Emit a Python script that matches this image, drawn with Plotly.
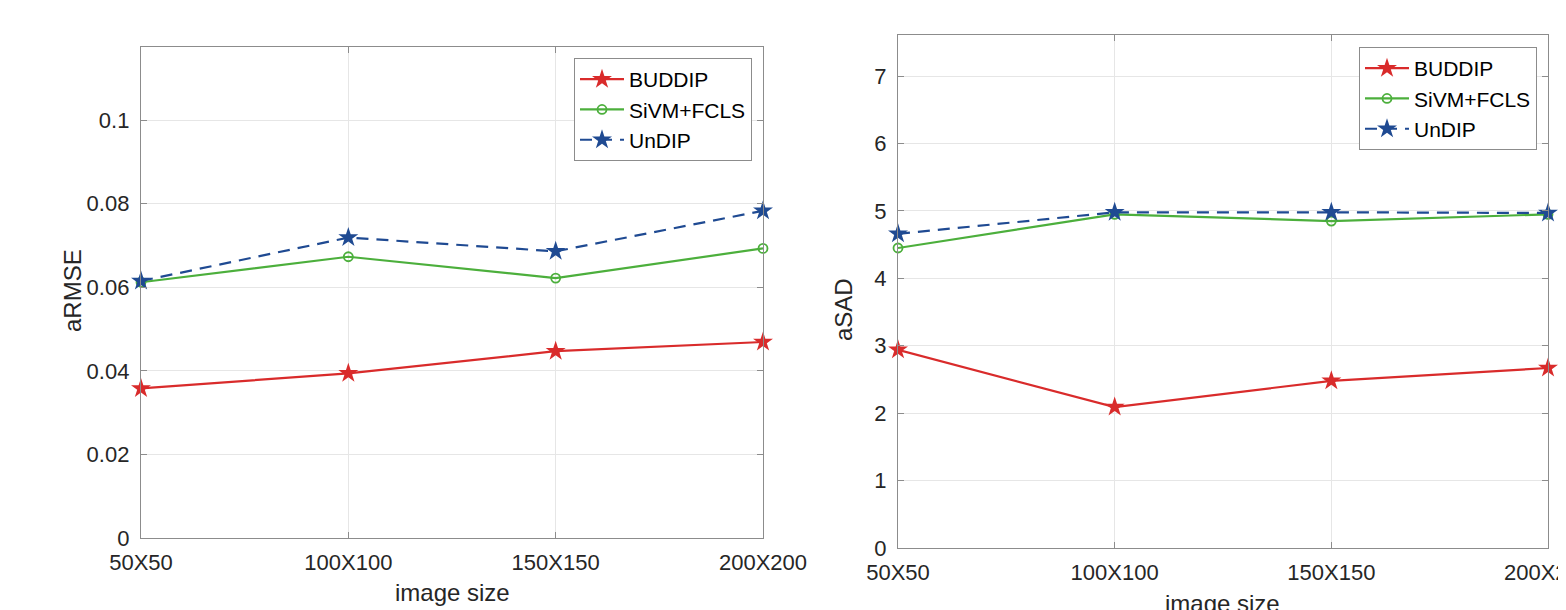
import plotly.graph_objects as go

# ---- data ----
sizes = ["50X50", "100X100", "150X150", "200X200"]
armse_buddip = [0.0358, 0.0394, 0.0447, 0.0469]
armse_sivm = [0.0612, 0.0673, 0.0622, 0.0693]
armse_undip = [0.0615, 0.0719, 0.0686, 0.0783]
asad_buddip = [2.94, 2.09, 2.48, 2.67]
asad_sivm = [4.45, 4.95, 4.85, 4.95]
asad_undip = [4.66, 4.98, 4.98, 4.97]
armse_ticks = [0, 0.02, 0.04, 0.06, 0.08, 0.1]
armse_ticktext = ["0", "0.02", "0.04", "0.06", "0.08", "0.1"]
asad_ticks = [0, 1, 2, 3, 4, 5, 6, 7]
series_names = ["BUDDIP", "SiVM+FCLS", "UnDIP"]

OFF = 8  # page body margin
W, H = 1566 - OFF, 610 - OFF
RED = "#d92b2b"
GREEN = "#4caf3c"
BLUE = "#1f4a92"
FONT = "Liberation Sans, Arial, Helvetica, sans-serif"
TXT = "#262626"
AXC = "#8c8c8c"
GRID = "#e6e6e6"

fig = go.Figure()


def add_series(xa, ya, vals, legend):
    b, s, u = vals
    fig.add_trace(go.Scatter(
        x=sizes, y=b, name=series_names[0], xaxis=xa, yaxis=ya, legend=legend,
        mode="lines+markers", cliponaxis=False,
        line=dict(color=RED, width=2.2),
        marker=dict(symbol="star", size=15, color=RED, line=dict(width=0))))
    fig.add_trace(go.Scatter(
        x=sizes, y=s, name=series_names[1], xaxis=xa, yaxis=ya, legend=legend,
        mode="lines+markers", cliponaxis=False,
        line=dict(color=GREEN, width=2.2),
        marker=dict(symbol="circle-open", size=9, color=GREEN, line=dict(width=1.8, color=GREEN))))
    fig.add_trace(go.Scatter(
        x=sizes, y=u, name=series_names[2], xaxis=xa, yaxis=ya, legend=legend,
        mode="lines+markers", cliponaxis=False,
        line=dict(color=BLUE, width=2.2, dash="12px,8px"),
        marker=dict(symbol="star", size=15, color=BLUE, line=dict(width=0))))


add_series("x", "y", (armse_buddip, armse_sivm, armse_undip), "legend")
add_series("x2", "y2", (asad_buddip, asad_sivm, asad_undip), "legend2")


# screen pixel geometry -> paper fractions
def px(x):
    return (x - OFF) / W


def py(y):
    return 1 - (y - OFF) / H


axis_common = dict(
    showline=True, linecolor=AXC, linewidth=1.3, mirror="ticks",
    ticks="inside", ticklen=6, tickcolor=AXC, tickwidth=1,
    showgrid=True, gridcolor=GRID, gridwidth=1, zeroline=False,
    tickfont=dict(family=FONT, size=22, color=TXT), automargin=False,
)

legend_common = dict(
    xanchor="right", yanchor="top",
    bgcolor="white", bordercolor="#8c8c8c", borderwidth=1,
    font=dict(family=FONT, size=21, color="black"),
    itemwidth=44, tracegroupgap=0,
)

fig.update_layout(
    width=W, height=H,
    margin=dict(l=0, r=0, t=0, b=0),
    paper_bgcolor="white", plot_bgcolor="white",
    font=dict(family=FONT, color=TXT),
    xaxis=dict(axis_common, domain=[px(141), px(763)], anchor="y",
               type="category", range=[0, 3], ticklabelstandoff=4),
    yaxis=dict(axis_common, domain=[py(538), py(47)], anchor="x",
               range=[0, 0.1175], tickvals=armse_ticks, ticktext=armse_ticktext,
               ticklabelstandoff=6),
    xaxis2=dict(axis_common, domain=[px(898), px(1548)], anchor="y2",
                type="category", range=[0, 3], ticklabelstandoff=4),
    yaxis2=dict(axis_common, domain=[py(548), py(35)], anchor="x2",
                range=[0, 7.61], tickvals=asad_ticks, ticklabelstandoff=6),
    legend=dict(legend_common, x=px(752), y=py(58)),
    legend2=dict(legend_common, x=px(1537), y=py(47)),
    showlegend=True,
)

title_font = dict(family=FONT, size=24, color=TXT)
common_ann = dict(xref="paper", yref="paper", showarrow=False, font=title_font,
                  xanchor="center", yanchor="middle")
fig.add_annotation(text="aRMSE", x=px(72), y=py(290), textangle=-90, **common_ann)
fig.add_annotation(text="image size", x=px(452), y=py(592), **common_ann)
fig.add_annotation(text="aSAD", x=px(843), y=py(310), textangle=-90, **common_ann)
fig.add_annotation(text="image size", x=px(1222), y=py(603), **common_ann)

fig.write_html("out.html")
